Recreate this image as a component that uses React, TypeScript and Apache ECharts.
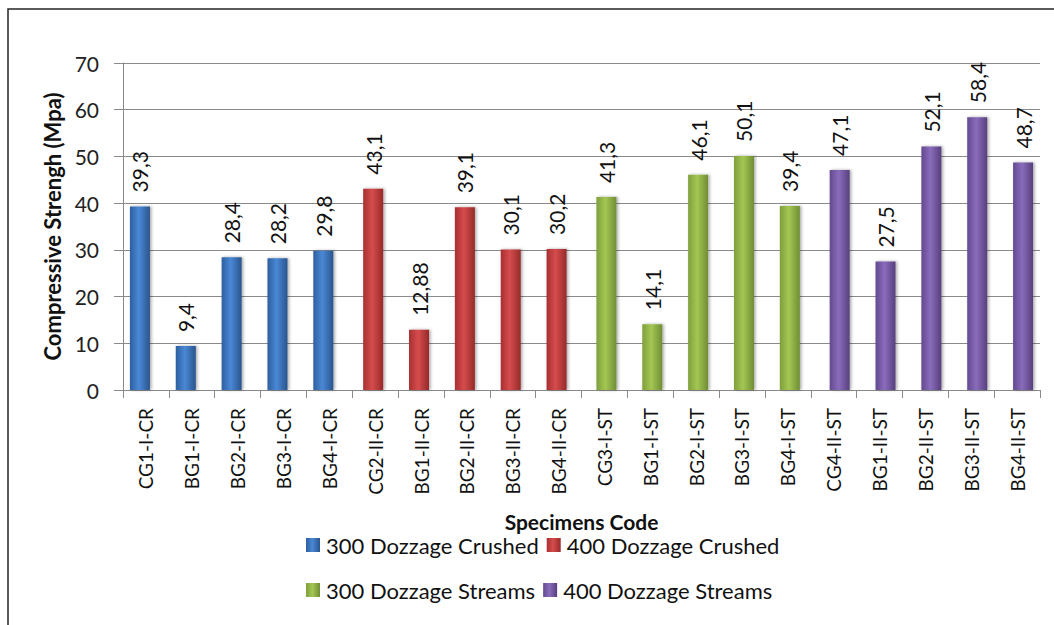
import React, { useEffect, useRef } from "react";
import * as echarts from "echarts";

const categories = [
  "CG1-I-CR", "BG1-I-CR", "BG2-I-CR", "BG3-I-CR", "BG4-I-CR",
  "CG2-II-CR", "BG1-II-CR", "BG2-II-CR", "BG3-II-CR", "BG4-II-CR",
  "CG3-I-ST", "BG1-I-ST", "BG2-I-ST", "BG3-I-ST", "BG4-I-ST",
  "CG4-II-ST", "BG1-II-ST", "BG2-II-ST", "BG3-II-ST", "BG4-II-ST",
];

const seriesNames = [
  "300 Dozzage Crushed",
  "400 Dozzage Crushed",
  "300 Dozzage Streams",
  "400 Dozzage Streams",
];

const crushed300 = [39.3, 9.4, 28.4, 28.2, 29.8];
const crushed400 = [43.1, 12.88, 39.1, 30.1, 30.2];
const streams300 = [41.3, 14.1, 46.1, 50.1, 39.4];
const streams400 = [47.1, 27.5, 52.1, 58.4, 48.7];

const yTicks = { min: 0, max: 70, interval: 10 };

const palettes = [
  ["#2d5f9f", "#4a88d6", "#29548c"],
  ["#a83032", "#d64c4c", "#962a2b"],
  ["#7f9f3c", "#a3c753", "#708d34"],
  ["#634a8e", "#8a6bbc", "#57407c"],
];

const FONT = "Lato, 'Noto Sans', sans-serif";

export default function App() {
  const ref = useRef<HTMLDivElement>(null);

  useEffect(() => {
    document.body.style.margin = "0";
    if (!ref.current) return;
    const chart = echarts.init(ref.current, undefined, { renderer: "svg" });

    const groups = [crushed300, crushed400, streams300, streams400];
    const series = groups.map((vals, gi) => {
      const data: (number | null)[] = categories.map(() => null);
      vals.forEach((v, i) => {
        data[gi * 5 + i] = v;
      });
      const p = palettes[gi];
      return {
        name: seriesNames[gi],
        type: "bar",
        data,
        barWidth: 20,
        barGap: "-80%",
        itemStyle: {
          color: new echarts.graphic.LinearGradient(0, 0, 1, 0, [
            { offset: 0, color: p[0] },
            { offset: 0.45, color: p[1] },
            { offset: 1, color: p[2] },
          ]),
          shadowColor: "rgba(0,0,0,0.35)",
          shadowBlur: 3,
          shadowOffsetX: 1.5,
          shadowOffsetY: 0,
        },
        label: {
          show: true,
          position: "top",
          rotate: 90,
          align: "left",
          verticalAlign: "middle",
          distance: 14,
          fontFamily: FONT,
          fontSize: 21,
          color: "#111",
          formatter: (prm: any) => String(prm.value).replace(".", ","),
        },
      };
    });

    const legendCommon = {
      orient: "horizontal",
      icon: "rect",
      itemWidth: 14,
      itemHeight: 14,
      itemGap: 8,
      padding: 0,
      selectedMode: false,
      textStyle: { fontFamily: FONT, fontSize: 22, color: "#111", lineHeight: 20, padding: [0, 0, 0, 1] },
    };

    chart.setOption({
      animation: false,
      backgroundColor: "#ffffff",
      grid: { left: 123, right: 14, top: 63, bottom: 235, containLabel: false },
      legend: [
        { ...legendCommon, data: [seriesNames[0], seriesNames[1]], left: 306, top: 534 },
        { ...legendCommon, data: [seriesNames[2], seriesNames[3]], left: 306, top: 579 },
      ],
      xAxis: {
        type: "category",
        data: categories,
        name: "Specimens Code",
        nameLocation: "middle",
        nameGap: 121,
        nameTextStyle: { fontFamily: FONT, fontSize: 21, fontWeight: "bold", color: "#111", lineHeight: 21 },
        axisLine: { show: true, lineStyle: { color: "#8a8a8a", width: 1 } },
        axisTick: { show: true, length: 8, interval: 0, lineStyle: { color: "#8a8a8a" } },
        axisLabel: {
          interval: 0,
          rotate: 90,
          margin: 18,
          fontFamily: FONT,
          fontSize: 19,
          color: "#111",
        },
        splitLine: { show: false },
      },
      yAxis: {
        type: "value",
        min: yTicks.min,
        max: yTicks.max,
        interval: yTicks.interval,
        name: "Compressive Strengh (Mpa)",
        nameLocation: "middle",
        nameGap: 58,
        nameTextStyle: { fontFamily: FONT, fontSize: 22, fontWeight: "bold", color: "#111" },
        axisLine: { show: true, lineStyle: { color: "#8a8a8a", width: 1 } },
        axisTick: { show: true, length: 9, inside: false, lineStyle: { color: "#8a8a8a" } },
        axisLabel: { margin: 24, fontFamily: FONT, fontSize: 21, color: "#222" },
        splitLine: { show: true, lineStyle: { color: "#8a8a8a", width: 1 } },
      },
      graphic: [
        {
          type: "rect",
          shape: { x: 8, y: 9, width: 1200, height: 800 },
          style: { fill: "none", stroke: "#262626", lineWidth: 1.5 },
          silent: true,
          z: 10,
        },
      ],
      series,
    });

    return () => chart.dispose();
  }, []);

  return <div ref={ref} style={{ width: 1054, height: 625 }} />;
}
